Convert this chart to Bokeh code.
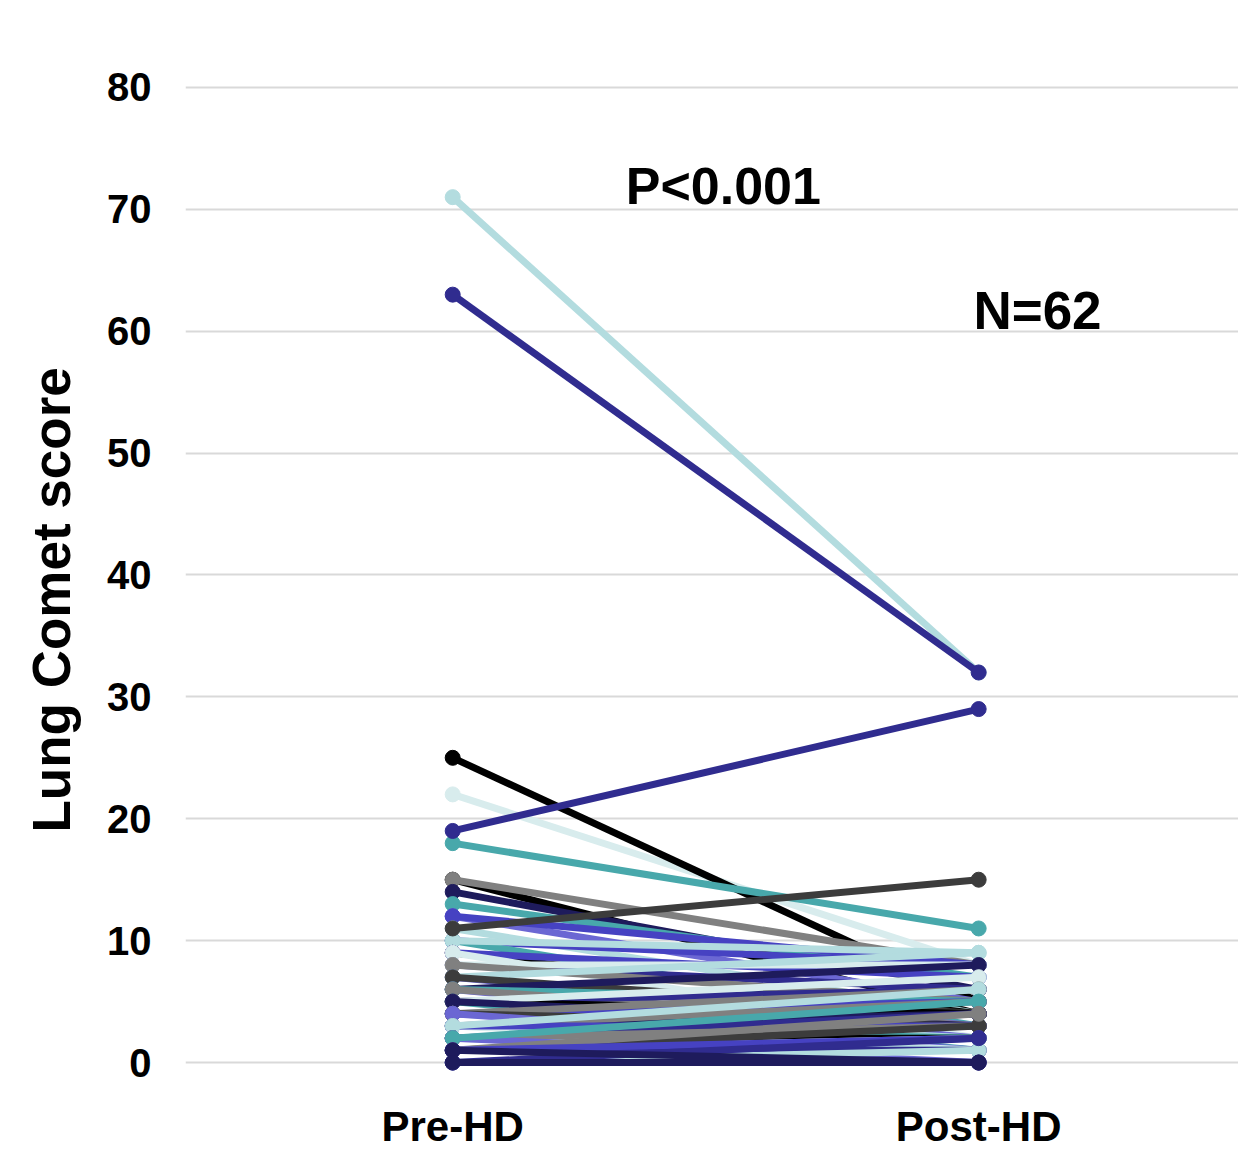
from bokeh.plotting import figure
from bokeh.models import Range1d, FixedTicker, Label, Title
from bokeh.embed import file_html
from bokeh.resources import INLINE

categories = ["Pre-HD", "Post-HD"]
y_ticks = [0, 10, 20, 30, 40, 50, 60, 70, 80]

# one entry per patient (N=62), listed in drawing order
pre = [22, 25, 15, 15,
       14, 13, 12, 12, 11, 10, 10, 10,
       9, 9, 9, 8, 8, 8, 7, 7, 7,
       6, 6, 6, 6, 5, 5, 5, 5, 5,
       4, 4, 4, 4, 4, 3, 3, 3, 3,
       3, 3, 2, 2, 2, 2, 2, 2, 1,
       1, 1, 1, 1, 0, 0, 0, 1,
       18, 11, 19, 71, 63, 0]
post = [8, 5, 4, 8,
        6, 7, 5, 8, 4, 8, 3, 9,
        4, 7, 2, 6, 8, 5, 3, 9, 4,
        2, 8, 5, 3, 6, 1, 4, 7, 3,
        5, 2, 6, 3, 1, 4, 2, 5, 1,
        3, 6, 2, 4, 1, 3, 0, 5, 2,
        1, 3, 4, 2, 1, 2, 0, 0,
        11, 15, 29, 32, 32, 0]
# colour group of each patient (style)
group = [5, 0, 0, 2,
         7, 4, 9, 8, 3, 8, 4, 3,
         0, 8, 5, 6, 5, 2, 9, 3, 1,
         9, 7, 4, 2, 6, 4, 0, 5, 7,
         8, 3, 2, 1, 9, 7, 4, 2, 5,
         8, 3, 0, 6, 3, 2, 9, 4, 5,
         6, 1, 2, 8, 3, 6, 9, 7,
         4, 1, 6, 3, 6, 7]

palette = ["#000000", "#3c3c3c", "#808080", "#b3dcdf", "#48a8ab",
           "#d8eced", "#302c8f", "#1e1b5c", "#4642c2", "#6b67d3"]

p = figure(frame_width=1053, frame_height=998,
           min_border_left=185, min_border_right=0, min_border_top=80, min_border_bottom=10,
           x_range=Range1d(-0.508, 1.494), y_range=Range1d(-1.31, 80.57),
           output_backend="svg", toolbar_location=None)

p.outline_line_color = None
p.background_fill_color = "white"

p.xgrid.visible = False
p.ygrid.ticker = FixedTicker(ticks=y_ticks)
p.ygrid.grid_line_color = "#d9d9d9"
p.ygrid.grid_line_width = 2

for ax in (p.xaxis[0], p.yaxis[0]):
    ax.axis_line_color = None
    ax.major_tick_line_color = None
    ax.minor_tick_line_color = None
    ax.major_label_text_font = "Liberation Sans"
    ax.major_label_text_font_style = "bold"
    ax.major_label_text_color = "#000000"

p.yaxis.ticker = FixedTicker(ticks=y_ticks)
p.yaxis.major_label_text_font_size = "40px"
p.yaxis.major_label_standoff = 28

p.xaxis.ticker = FixedTicker(ticks=[0, 1])
p.xaxis.major_label_overrides = {0: categories[0], 1: categories[1]}
p.xaxis.major_label_text_font_size = "42px"
p.xaxis.major_label_standoff = 18

xpos = [0, 1]
for a, b, g in zip(pre, post, group):
    c = palette[g]
    p.line(xpos, [a, b], line_color=c, line_width=7)
    p.scatter(xpos, [a, b], marker="circle", size=15, fill_color=c, line_color=c)

p.add_layout(Title(text="Lung Comet score", align="left", offset=246, standoff=43,
                   vertical_align="top",
                   text_font="Liberation Sans", text_font_style="bold",
                   text_font_size="53px", text_color="#000000"), "left")
p.add_layout(Label(x=0.329, y=71.9, text="P<0.001", text_font="Liberation Sans",
                   text_font_style="bold", text_font_size="52px", text_color="#000000",
                   text_baseline="alphabetic"))
p.add_layout(Label(x=0.990, y=61.7, text="N=62", text_font="Liberation Sans",
                   text_font_style="bold", text_font_size="53px", text_color="#000000",
                   text_baseline="alphabetic"))

open("out.html", "w").write(file_html(p, INLINE))
